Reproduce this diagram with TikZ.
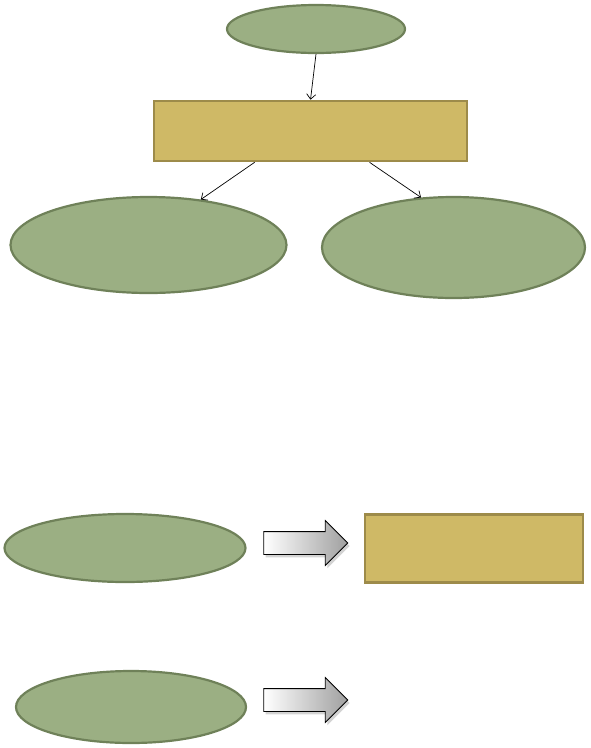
\documentclass[tikz,border=0pt]{standalone}
\usetikzlibrary{shapes.geometric,shapes.arrows,shadows,arrows.meta,calc}
\definecolor{ovalfill}{HTML}{9BAF83}
\definecolor{ovaldraw}{HTML}{6F8159}
\definecolor{boxfill}{HTML}{CFB966}
\definecolor{boxdraw}{HTML}{9D8B4A}
\tikzset{
  oval/.style={ellipse, fill=ovalfill, draw=ovaldraw, line width=2.2pt, inner sep=0pt},
  goldbox/.style={rectangle, fill=boxfill, draw=boxdraw, line width=2.6pt, inner sep=0pt},
  link/.style={-{Straight Barb[length=5pt,width=9pt]}, line width=0.7pt, black},
  bigarrow/.style={single arrow, draw=black, line width=0.8pt, inner sep=11pt,
    single arrow head extend=11pt, minimum height=84pt,
    left color=white, right color=gray!75,
    drop shadow={shadow xshift=2pt, shadow yshift=-3pt, opacity=0.35}}
}
\begin{document}
\begin{tikzpicture}[x=1pt,y=-1pt]
\useasboundingbox (0,0) rectangle (591,748);
\node[oval, minimum width=178pt, minimum height=48pt] (top) at (316,29) {};
\node[goldbox, minimum width=313pt, minimum height=60pt] (mid) at (310.5,131) {};
\node[oval, minimum width=276pt, minimum height=96pt] (left) at (148.5,245) {};
\node[oval, minimum width=263pt, minimum height=101pt] (right) at (453.5,247.5) {};
\draw[link] (top.south) -- (mid.north);
\draw[link] ($(mid.south west)!0.323!(mid.south east)$) -- (left.41);
\draw[link] ($(mid.south west)!0.687!(mid.south east)$) -- (right.123);

\node[oval, minimum width=241pt, minimum height=68pt] (ovA) at (125,548) {};
\node[bigarrow] (arA) at (300,543) {};
\node[goldbox, minimum width=218pt, minimum height=68pt] (boxA) at (474,548.5) {};

\node[oval, minimum width=230pt, minimum height=72pt] (ovB) at (131,707) {};
\node[bigarrow] (arB) at (300,700) {};
\end{tikzpicture}
\end{document}
